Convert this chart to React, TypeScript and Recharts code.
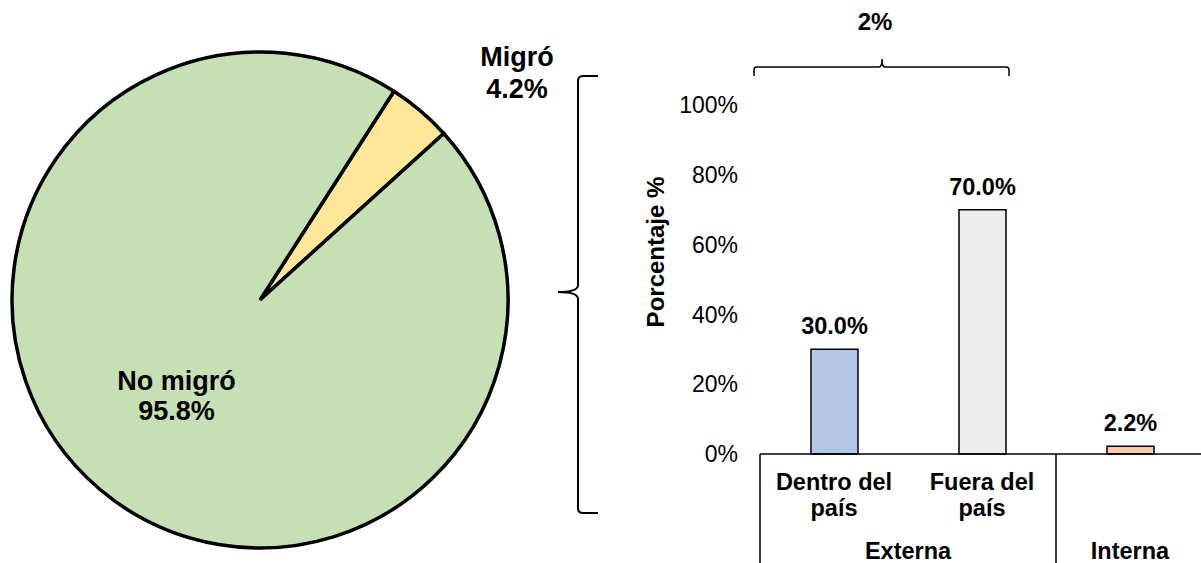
import { PieChart, Pie, Cell, BarChart, Bar, XAxis, YAxis, LabelList } from 'recharts';

const FONT = '"Liberation Sans", Arial, sans-serif';

// pie: migró vs no migró
const pieNames = ['Migró', 'No migró'];
const pieValues = [4.2, 95.8];
const pieColors = ['#FFE699', '#C5E0B4'];

// bars: destino de la migración
const categories = ['Dentro del\npaís', 'Fuera del\npaís', ''];
const groups = ['Externa', 'Externa', 'Interna'];
const barValues = [30.0, 70.0, 2.2];
const barColors = ['#B4C7E7', '#EDEDED', '#F8CBAD'];
const yTicks = [0, 20, 40, 60, 80, 100];
const bracketLabel = '2%';

const pieData = pieNames.map((name, i) => ({ name, value: pieValues[i] }));
const barData = categories.map((name, i) => ({ name, group: groups[i], value: barValues[i] }));

const BAR_LEFT = 560;
const Y_AXIS_W = 200;
const PLOT_W = 444;
const STEP = PLOT_W / categories.length;

const RAD = Math.PI / 180;

function PieLabel(props: any) {
  const { cx, cy, midAngle, outerRadius, index, name, value } = props;
  const outside = index === 0;
  const r = outside ? outerRadius * 1.385 : outerRadius * 0.51;
  const a = outside ? midAngle - 8.2 : midAngle - 1;
  const x = cx + r * Math.cos(-a * RAD);
  const y = cy + r * Math.sin(-a * RAD);
  return (
    <text x={x} y={y} textAnchor="middle" fontFamily={FONT} fontWeight="bold" fontSize={27} fill="#000">
      <tspan x={x} dy={outside ? -6 : -5}>{name}</tspan>
      <tspan x={x} dy={outside ? 32 : 30}>{value.toFixed(1)}%</tspan>
    </text>
  );
}

function CategoryTick(props: any) {
  const { x, y, payload, index } = props;
  const lines = String(payload.value).split('\n');
  const g = groups[index];
  const first = index === 0 || groups[index - 1] !== g;
  let n = 0;
  for (let i = index; i < groups.length && groups[i] === g; i++) n++;
  return (
    <g>
      {lines.map((ln, i) => (
        <text key={i} x={x} y={y + 36 + i * 26} textAnchor="middle" fontFamily={FONT} fontWeight="bold" fontSize={23.5} fill="#000">
          {ln}
        </text>
      ))}
      {first && (
        <>
          <line x1={x - STEP / 2} x2={x - STEP / 2} y1={y} y2={y + 120} stroke="#000" strokeWidth={1.5} />
          <text x={x + ((n - 1) * STEP) / 2} y={y + 105} textAnchor="middle" fontFamily={FONT} fontWeight="bold" fontSize={23.5} fill="#000">
            {g}
          </text>
        </>
      )}
    </g>
  );
}

export default function App() {
  return (
    <div style={{ position: 'absolute', left: 0, top: 0, width: 1201, height: 563, overflow: 'hidden', background: '#fff' }}>
      <div style={{ position: 'absolute', left: 0, top: 0 }}>
        <PieChart width={560} height={563} margin={{ top: 0, right: 0, bottom: 0, left: 0 }}>
          <Pie
            data={pieData}
            dataKey="value"
            nameKey="name"
            cx={260}
            cy={300}
            outerRadius={248}
            startAngle={57.3}
            endAngle={-302.7}
            stroke="#000"
            strokeWidth={3.5}
            label={PieLabel}
            labelLine={false}
            isAnimationActive={false}
          >
            {pieData.map((d, i) => (
              <Cell key={d.name} fill={pieColors[i]} />
            ))}
          </Pie>
        </PieChart>
      </div>
      <div style={{ position: 'absolute', left: BAR_LEFT, top: 0 }}>
        <BarChart width={Y_AXIS_W + PLOT_W} height={563} data={barData} margin={{ top: 105, right: 0, bottom: 0, left: 0 }}>
          <XAxis
            dataKey="name"
            interval={0}
            height={109}
            tickLine={false}
            tickSize={0}
            tickMargin={0}
            axisLine={{ stroke: '#000', strokeWidth: 1.5 }}
            tick={<CategoryTick />}
          />
          <YAxis
            width={Y_AXIS_W}
            domain={[0, 100]}
            ticks={yTicks}
            axisLine={false}
            tickLine={false}
            tickSize={12}
            tickMargin={10}
            tickFormatter={(v: number) => `${v}%`}
            tick={{ fill: '#000', fontFamily: FONT, fontSize: 23 }}
          />
          <Bar dataKey="value" barSize={47} stroke="#000" strokeWidth={1.5} isAnimationActive={false}>
            {barData.map((d, i) => (
              <Cell key={i} fill={barColors[i]} />
            ))}
            <LabelList
              dataKey="value"
              position="top"
              offset={15}
              formatter={(v: any) => `${Number(v).toFixed(1)}%`}
              style={{ fill: '#000', fontFamily: FONT, fontWeight: 'bold', fontSize: 23.5 }}
            />
          </Bar>
        </BarChart>
      </div>
      <svg width={1201} height={563} style={{ position: 'absolute', left: 0, top: 0, pointerEvents: 'none' }}>
        <text x={875} y={30} textAnchor="middle" fontFamily={FONT} fontWeight="bold" fontSize={24} fill="#000">
          {bracketLabel}
        </text>
        <path d="M754,76 V70 Q754,67 757,67 H879 Q882,67 882,59 Q882,67 885,67 H1006 Q1009,67 1009,70 V76" fill="none" stroke="#000" strokeWidth={1.5} />
        <path d="M598,76 H583 Q578,76 578,81 V285 Q578,292 558,292 Q578,292 578,299 V508 Q578,513 583,513 H598" fill="none" stroke="#000" strokeWidth={2} />
        <text
          x={664}
          y={252}
          transform="rotate(-90 664 252)"
          textAnchor="middle"
          fontFamily={FONT}
          fontWeight="bold"
          fontSize={24}
          fill="#000"
        >
          Porcentaje %
        </text>
      </svg>
    </div>
  );
}
